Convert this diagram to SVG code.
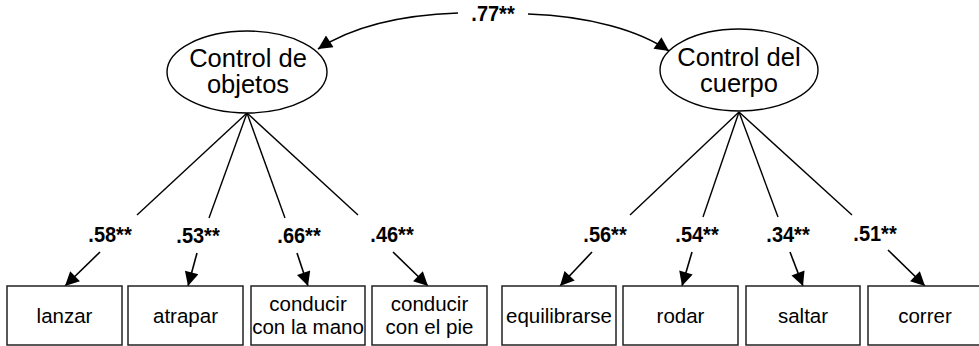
<svg xmlns="http://www.w3.org/2000/svg" width="979" height="346" viewBox="0 0 979 346">
<style>
.lat{fill:#fff;stroke:#000;stroke-width:1.4}
.obs{fill:#fff;stroke:#222;stroke-width:1.5}
.lt{font-family:"Liberation Sans",Arial,sans-serif;font-size:25.5px;text-anchor:middle;fill:#000}
.bt{font-family:"Liberation Sans",Arial,sans-serif;font-size:20.5px;text-anchor:middle;fill:#000}
.lb{font-family:"Liberation Sans",Arial,sans-serif;font-size:20px;font-weight:bold;text-anchor:middle;fill:#000}
.ln{stroke:#000;stroke-width:1.4;fill:none}
.ar{stroke:#000;stroke-width:1.6;fill:none;marker-end:url(#ah)}
</style>
<defs>
<marker id="ah" viewBox="0 0 10 10" refX="10" refY="5" markerWidth="16" markerHeight="14" markerUnits="userSpaceOnUse" orient="auto">
<path d="M0,0 L10,5 L0,10 Z" fill="#000"/>
</marker>
</defs>
<g id="connectors">
<path class="ar" d="M458,13 C400,15 352,27 318,49"/>
<path class="ar" d="M528,14 C590,16 640,31 669,51"/>
<line class="ln" x1="247" y1="113" x2="137" y2="215"/>
<line class="ln" x1="247" y1="113" x2="209" y2="218"/>
<line class="ln" x1="247" y1="113" x2="285" y2="218"/>
<line class="ln" x1="247" y1="113" x2="358" y2="215"/>
<line class="ln" x1="739" y1="112" x2="630" y2="215"/>
<line class="ln" x1="739" y1="112" x2="703" y2="217"/>
<line class="ln" x1="739" y1="112" x2="778" y2="217"/>
<line class="ln" x1="739" y1="112" x2="852" y2="215"/>
<line class="ar" x1="100" y1="252" x2="65" y2="286"/>
<line class="ar" x1="197" y1="253" x2="188" y2="286"/>
<line class="ar" x1="297" y1="253" x2="308" y2="286"/>
<line class="ar" x1="393" y1="252" x2="428" y2="286"/>
<line class="ar" x1="592" y1="252" x2="560" y2="286"/>
<line class="ar" x1="692" y1="252" x2="682" y2="286"/>
<line class="ar" x1="790" y1="252" x2="803" y2="286"/>
<line class="ar" x1="888" y1="250" x2="925" y2="286"/>
<text class="lb" transform="translate(493,21) scale(1,1.12)">.77**</text>
<text class="lb" transform="translate(110,242) scale(1,1.12)">.58**</text>
<text class="lb" transform="translate(198,243) scale(1,1.12)">.53**</text>
<text class="lb" transform="translate(299,243) scale(1,1.12)">.66**</text>
<text class="lb" transform="translate(392,242) scale(1,1.12)">.46**</text>
<text class="lb" transform="translate(605,242) scale(1,1.12)">.56**</text>
<text class="lb" transform="translate(697,242) scale(1,1.12)">.54**</text>
<text class="lb" transform="translate(788,242) scale(1,1.12)">.34**</text>
<text class="lb" transform="translate(875,241) scale(1,1.12)">.51**</text>
</g>
<g id="objetos">
<ellipse class="lat" cx="247" cy="72" rx="80" ry="41"/>
<text class="lt" x="248" y="67">Control de</text>
<text class="lt" x="248" y="93">objetos</text>
</g>
<g id="cuerpo">
<ellipse class="lat" cx="739" cy="70" rx="79" ry="41"/>
<text class="lt" x="739" y="66">Control del</text>
<text class="lt" x="739" y="92">cuerpo</text>
</g>
<g id="lanzar"><rect class="obs" x="7" y="286" width="115" height="59"/><text class="bt" x="64.5" y="323">lanzar</text></g>
<g id="atrapar"><rect class="obs" x="128" y="286" width="115" height="59"/><text class="bt" x="185.5" y="323">atrapar</text></g>
<g id="mano"><rect class="obs" x="251" y="286" width="114" height="59"/><text class="bt" x="308" y="311">conducir</text><text class="bt" x="308" y="334">con la mano</text></g>
<g id="pie"><rect class="obs" x="372" y="286" width="115" height="59"/><text class="bt" x="429.5" y="311">conducir</text><text class="bt" x="429.5" y="334">con el pie</text></g>
<g id="equilibrarse"><rect class="obs" x="502" y="286" width="114" height="59"/><text class="bt" x="559" y="323">equilibrarse</text></g>
<g id="rodar"><rect class="obs" x="623" y="286" width="115" height="59"/><text class="bt" x="680.5" y="323">rodar</text></g>
<g id="saltar"><rect class="obs" x="746" y="286" width="114" height="59"/><text class="bt" x="803" y="323">saltar</text></g>
<g id="correr"><rect class="obs" x="868" y="286" width="115" height="59"/><text class="bt" x="925" y="323">correr</text></g>
</svg>
